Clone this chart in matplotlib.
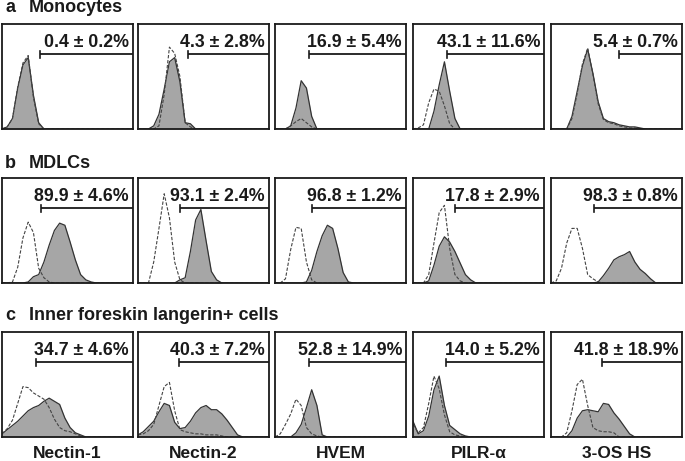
import numpy as np
import matplotlib
matplotlib.use('Agg')
import matplotlib.pyplot as plt

# Colors
FILL = '#A6A6A6'
EDGE = '#333333'
ISO = '#444444'
BLACK = '#1A1A1A'

plt.rcParams['font.family'] = ['Liberation Sans', 'DejaVu Sans']

# Data: x grid (% of axis), histogram heights (% of panel height)
X = np.arange(0, 101, 4)

markers = ['Nectin-1', 'Nectin-2', 'HVEM', 'PILR-α', '3-OS HS']
row_letters = ['a', 'b', 'c']
row_titles = ['Monocytes', 'MDLCs', 'Inner foreskin langerin+ cells']

mono_labels = ['0.4 ± 0.2%', '4.3 ± 2.8%', '16.9 ± 5.4%', '43.1 ± 11.6%', '5.4 ± 0.7%']
mdlc_labels = ['89.9 ± 4.6%', '93.1 ± 2.4%', '96.8 ± 1.2%', '17.8 ± 2.9%', '98.3 ± 0.8%']
lang_labels = ['34.7 ± 4.6%', '40.3 ± 7.2%', '52.8 ± 14.9%', '14.0 ± 5.2%', '41.8 ± 18.9%']

mono_gates = [29, 38, 26, 26, 52]
mdlc_gates = [30, 32, 28, 32, 33]
lang_gates = [26, 31, 26, 25, 39]

# a - Monocytes
a1_pos = [0, 2, 10, 39, 61, 68, 32, 6, 0, 0, 0, 0, 0, 0, 0, 0, 0, 0, 0, 0, 0, 0, 0, 0, 0, 0]
a1_iso = [0, 2, 10, 40, 63, 70, 30, 5, 0, 0, 0, 0, 0, 0, 0, 0, 0, 0, 0, 0, 0, 0, 0, 0, 0, 0]
a2_pos = [0, 0, 0, 3, 14, 38, 64, 68, 45, 6, 5, 0, 0, 0, 0, 0, 0, 0, 0, 0, 0, 0, 0, 0, 0, 0]
a2_iso = [0, 0, 0, 0, 3, 33, 78, 72, 50, 6, 2, 0, 0, 0, 0, 0, 0, 0, 0, 0, 0, 0, 0, 0, 0, 0]
a3_pos = [0, 0, 0, 3, 20, 46, 39, 12, 0, 0, 0, 0, 0, 0, 0, 0, 0, 0, 0, 0, 0, 0, 0, 0, 0, 0]
a3_iso = [0, 0, 0, 3, 7, 10, 6, 2, 0, 0, 0, 0, 0, 0, 0, 0, 0, 0, 0, 0, 0, 0, 0, 0, 0, 0]
a4_pos = [0, 0, 0, 0, 17, 42, 64, 36, 10, 0, 0, 0, 0, 0, 0, 0, 0, 0, 0, 0, 0, 0, 0, 0, 0, 0]
a4_iso = [0, 1, 4, 25, 38, 36, 22, 5, 0, 0, 0, 0, 0, 0, 0, 0, 0, 0, 0, 0, 0, 0, 0, 0, 0, 0]
a5_pos = [0, 0, 0, 0, 12, 36, 60, 76, 53, 26, 10, 7, 6, 4, 3, 2, 2, 1, 0, 0, 0, 0, 0, 0, 0, 0]
a5_iso = [0, 0, 0, 0, 10, 34, 62, 77, 52, 24, 9, 6, 5, 3, 2, 1, 1, 0, 0, 0, 0, 0, 0, 0, 0, 0]

# b - MDLCs
b1_pos = [0, 0, 0, 0, 0, 1, 6, 8, 20, 36, 50, 57, 55, 39, 22, 8, 3, 1, 0, 0, 0, 0, 0, 0, 0, 0]
b1_iso = [0, 0, 1, 15, 43, 58, 48, 14, 5, 1, 0, 0, 0, 0, 0, 0, 0, 0, 0, 0, 0, 0, 0, 0, 0, 0]
b2_pos = [0, 0, 0, 0, 0, 0, 0, 0, 3, 5, 30, 60, 70, 40, 11, 3, 0, 0, 0, 0, 0, 0, 0, 0, 0, 0]
b2_iso = [0, 0, 0, 20, 52, 85, 62, 20, 3, 0, 0, 0, 0, 0, 0, 0, 0, 0, 0, 0, 0, 0, 0, 0, 0, 0]
b3_pos = [0, 0, 0, 0, 0, 0, 1, 12, 30, 45, 55, 52, 33, 10, 1, 0, 0, 0, 0, 0, 0, 0, 0, 0, 0, 0]
b3_iso = [0, 0, 4, 32, 53, 52, 20, 3, 0, 0, 0, 0, 0, 0, 0, 0, 0, 0, 0, 0, 0, 0, 0, 0, 0, 0]
b4_pos = [0, 0, 0, 2, 17, 35, 44, 39, 30, 19, 8, 3, 0, 0, 0, 0, 0, 0, 0, 0, 0, 0, 0, 0, 0, 0]
b4_iso = [0, 0, 0, 8, 38, 67, 74, 33, 8, 2, 0, 0, 0, 0, 0, 0, 0, 0, 0, 0, 0, 0, 0, 0, 0, 0]
b5_pos = [0, 0, 0, 0, 0, 0, 0, 0, 0, 1, 7, 14, 22, 25, 27, 30, 20, 13, 9, 4, 0, 0, 0, 0, 0, 0]
b5_iso = [0, 2, 14, 38, 52, 52, 33, 8, 4, 1, 0, 0, 0, 0, 0, 0, 0, 0, 0, 0, 0, 0, 0, 0, 0, 0]

# c - Inner foreskin langerin+ cells
c1_pos = [3, 7, 11, 15, 20, 25, 28, 30, 34, 37, 34, 31, 18, 9, 4, 2, 0, 0, 0, 0, 0, 0, 0, 0, 0, 0]
c1_iso = [3, 8, 16, 32, 48, 47, 42, 39, 36, 28, 17, 9, 6, 5, 3, 1, 0, 0, 0, 0, 0, 0, 0, 0, 0, 0]
c2_pos = [2, 5, 10, 15, 24, 32, 30, 14, 8, 9, 15, 23, 28, 30, 26, 26, 22, 16, 9, 2, 0, 0, 0, 0, 0, 0]
c2_iso = [2, 3, 6, 12, 30, 48, 52, 25, 7, 5, 4, 3, 3, 2, 2, 2, 1, 0, 0, 0, 0, 0, 0, 0, 0, 0]
c3_pos = [0, 0, 0, 0, 4, 12, 28, 45, 30, 2, 0, 0, 0, 0, 0, 0, 0, 0, 0, 0, 0, 0, 0, 0, 0, 0]
c3_iso = [0, 3, 12, 22, 36, 30, 9, 3, 1, 0, 0, 0, 0, 0, 0, 0, 0, 0, 0, 0, 0, 0, 0, 0, 0, 0]
c4_pos = [15, 3, 6, 20, 45, 58, 30, 11, 7, 3, 1, 0, 0, 0, 0, 0, 0, 0, 0, 0, 0, 0, 0, 0, 0, 0]
c4_iso = [12, 4, 9, 32, 58, 46, 21, 5, 2, 1, 0, 0, 0, 0, 0, 0, 0, 0, 0, 0, 0, 0, 0, 0, 0, 0]
c5_pos = [0, 0, 0, 0, 6, 18, 25, 26, 25, 24, 32, 31, 23, 17, 10, 3, 0, 0, 0, 0, 0, 0, 0, 0, 0, 0]
c5_iso = [0, 0, 0, 4, 25, 50, 55, 30, 9, 6, 5, 5, 4, 0, 0, 0, 0, 0, 0, 0, 0, 0, 0, 0, 0, 0]

rows = [
    ([a1_pos, a2_pos, a3_pos, a4_pos, a5_pos], [a1_iso, a2_iso, a3_iso, a4_iso, a5_iso], mono_labels, mono_gates),
    ([b1_pos, b2_pos, b3_pos, b4_pos, b5_pos], [b1_iso, b2_iso, b3_iso, b4_iso, b5_iso], mdlc_labels, mdlc_gates),
    ([c1_pos, c2_pos, c3_pos, c4_pos, c5_pos], [c1_iso, c2_iso, c3_iso, c4_iso, c5_iso], lang_labels, lang_gates),
]

# Layout in pixels
W, H = 685, 461
col_left = [2, 138, 275, 413, 551]
col_w = 131
row_top = [24, 178, 332]
row_h = 105
title_y = [8, 163, 315]
GATE_Y = 71

fig = plt.figure(figsize=(W / 100, H / 100), dpi=100)

for r, (pos_list, iso_list, labels, gates) in enumerate(rows):
    fig.text(5 / W, 1 - title_y[r] / H, row_letters[r], fontsize=13, fontweight='bold',
             va='center', ha='left', color=BLACK)
    fig.text(29 / W, 1 - title_y[r] / H, row_titles[r], fontsize=13, fontweight='bold',
             va='center', ha='left', color=BLACK)
    for c in range(5):
        ax = fig.add_axes([col_left[c] / W, 1 - (row_top[r] + row_h) / H, col_w / W, row_h / H])
        ax.fill_between(X, 0, pos_list[c], color=FILL, lw=0)
        ax.plot(X, pos_list[c], color=EDGE, lw=0.9)
        ax.plot(X, iso_list[c], color=ISO, lw=0.8, ls=(0, (3, 1.5)))

        # Gate
        g = gates[c]
        ax.plot([g, 100], [GATE_Y, GATE_Y], color=BLACK, lw=1.3, solid_capstyle='butt')
        ax.plot([g, g], [GATE_Y - 3.5, GATE_Y + 3.5], color=BLACK, lw=1.2)
        ax.text(97, 78, labels[c], ha='right', va='baseline', fontsize=12.8,
                fontweight='bold', color=BLACK)

        ax.set_xlim(0, 100)
        ax.set_ylim(0, 100)
        ax.set_xticks([])
        ax.set_yticks([])
        for s in ax.spines.values():
            s.set_linewidth(1.3)
            s.set_color(BLACK)

# Marker labels under the bottom row
for c in range(5):
    fig.text((col_left[c] + col_w / 2) / W, 1 - 453 / H, markers[c], fontsize=12.5,
             fontweight='bold', ha='center', va='center', color=BLACK)

plt.savefig('out.png', dpi=100)
